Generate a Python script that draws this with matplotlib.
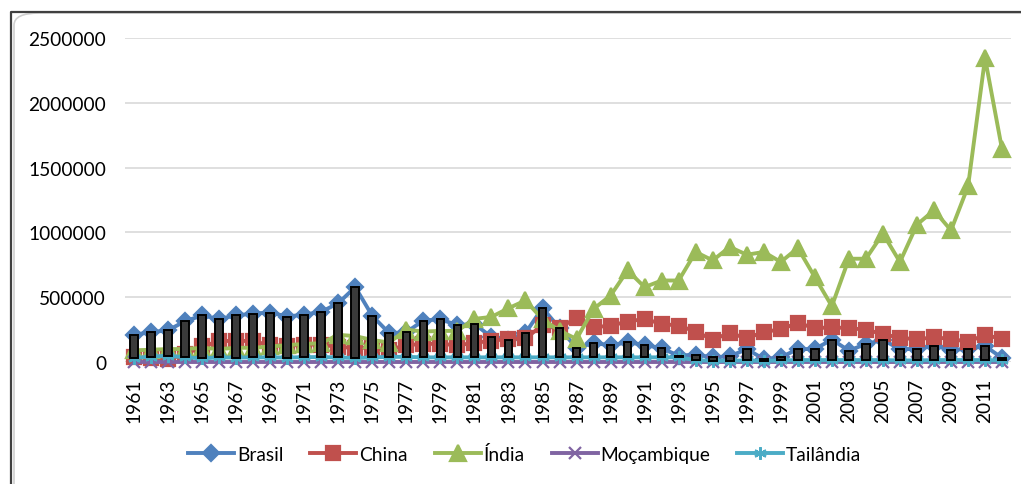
import matplotlib.pyplot as plt
from matplotlib.patches import FancyBboxPatch
from matplotlib.lines import Line2D
import numpy as np

plt.rcParams['font.family'] = ['Lato', 'DejaVu Sans']

years = list(range(1961, 2013))

brasil = [211000, 230000, 245000, 315000, 359000, 333000, 359000, 374000, 382000, 351000,
          366000, 387000, 454000, 578000, 356000, 222000, 230000, 320000, 330000, 284000,
          294000, 193000, 173000, 224000, 418000, 261000, 108000, 147000, 129000, 152000,
          132000, 106000, 49000, 57000, 36000, 44000, 100000, 23000, 36000, 100000,
          100000, 173000, 88000, 139000, 170000, 100000, 100000, 126000, 95000, 100000,
          124000, 31000]

china = [40000, 30000, 20000, 60000, 120000, 160000, 165000, 160000, 130000, 125000,
         135000, 135000, 115000, 110000, 110000, 95000, 130000, 140000, 140000, 130000,
         147000, 165000, 178000, 182000, 285000, 265000, 340000, 268000, 281000, 312000,
         333000, 294000, 281000, 235000, 173000, 224000, 183000, 232000, 252000, 302000,
         261000, 268000, 261000, 250000, 215000, 187000, 175000, 191000, 178000, 157000,
         209000, 178000]

india = [90000, 95000, 100000, 100000, 110000, 100000, 110000, 110000, 120000, 130000,
         140000, 145000, 210000, 200000, 170000, 150000, 250000, 235000, 240000, 240000,
         333000, 348000, 415000, 475000, 330000, 242000, 178000, 410000, 513000, 707000,
         578000, 629000, 629000, 849000, 784000, 888000, 828000, 849000, 772000, 880000,
         655000, 431000, 797000, 797000, 991000, 772000, 1060000, 1171000, 1016000, 1355000,
         2345000, 1640000]

mocambique = [2000] * 52

tailandia = [31000, 41000, 49000, 36000, 28000, 36000, 34000, 36000, 36000, 34000,
             38000, 38000, 36000, 30000, 36000, 40000, 40000, 36000, 36000, 36000,
             36000, 36000, 36000, 36000, 36000, 36000, 36000, 36000, 36000, 36000,
             36000, 36000, 36000, 15000, 8000, 10000, 12000, 8000, 12000, 15000,
             15000, 15000, 15000, 15000, 15000, 12000, 12000, 15000, 15000, 15000,
             15000, 12000]

series = [
    ('Brasil', brasil, '#4F81BD', 'D', 8),
    ('China', china, '#C0504D', 's', 10.5),
    ('Índia', india, '#9BBB59', '^', 11),
    ('Moçambique', mocambique, '#8064A2', 'x', 8),
    ('Tailândia', tailandia, '#4BACC6', (6, 2, 0), 9),
]

fig = plt.figure(figsize=(10.21, 4.85), dpi=100)
ax = fig.add_axes([0.1229, 0.2515, 0.8669, 0.668])

x = np.arange(len(years))
for name, vals, col, mk, ms in series:
    ax.plot(x, vals, color=col, lw=2.8, marker=mk, markersize=ms,
            markeredgewidth=1.6, markeredgecolor=col, markerfacecolor=col,
            label=name, clip_on=False, zorder=3)

# up-down bars between first and last series
lo = np.minimum(brasil, tailandia)
hi = np.maximum(brasil, tailandia)
down = np.array(brasil) >= np.array(tailandia)
ax.bar(x, hi - lo, bottom=lo, width=0.45,
       color=np.where(down, '#3A3A3A', 'white'), edgecolor='black', lw=1.4, zorder=4)

ax.set_xlim(-0.5, len(years) - 0.5)
ax.set_ylim(0, 2500000)
ax.set_yticks(range(0, 2500001, 500000))
ax.set_yticklabels([str(v) for v in range(0, 2500001, 500000)])
ax.set_xticks(x[::2])
ax.set_xticklabels([str(y) for y in years[::2]], rotation=90)
ax.tick_params(axis='y', length=0, pad=14, labelsize=13.8)
ax.tick_params(axis='x', length=0, pad=11, labelsize=13.8)
ax.grid(axis='y', color='#D9D9D9', lw=1.2)
ax.set_axisbelow(True)
for s in ax.spines.values():
    s.set_visible(False)

ax.legend(loc='center', bbox_to_anchor=(0.514, 0.062), bbox_transform=fig.transFigure,
          ncol=5, frameon=False, fontsize=13.8, handlelength=2.4, handletextpad=0.15,
          columnspacing=1.4)

# chart frame (only the top-left corner is inside the picture)
W, H = 1021, 485
fig.patches.append(FancyBboxPatch((14 / W, -0.2), 1.3, 1.2 - 14 / H,
                                  boxstyle='round,pad=0,rounding_size=0.025',
                                  transform=fig.transFigure, fill=False,
                                  ec='#D0D0D0', lw=1.2, clip_on=False))
fig.lines.append(Line2D([11 / W, 11 / W, 1], [0, 1 - 13 / H, 1 - 13 / H],
                        transform=fig.transFigure, color='#404040', lw=1.6))

fig.savefig('out.png', dpi=100)
